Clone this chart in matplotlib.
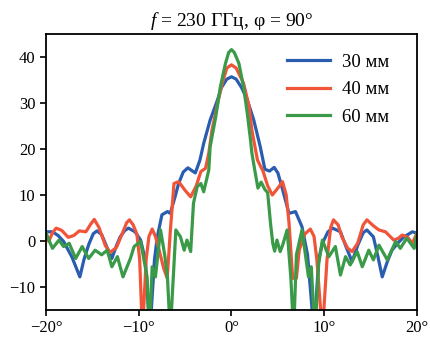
import matplotlib
matplotlib.use("Agg")
import matplotlib.pyplot as plt

# ---- data ----
blue_x = [-20, -19.3, -18.7, -18.1, -17.2, -16.35, -15.9, -15.4, -14.9, -14.5, -14.0, -13.4, -12.9, -12.4, -12.0,
          -11.5, -11.1, -10.4, -9.8, -9.3, -8.8,
          -8.3, -8.0, -7.5, -6.9, -6.6, -6.1, -5.7, -5.2, -4.7, -4.2, -3.9, -3.4, -3.0, -2.3, -1.5, -1.1, -0.5, 0.0,
          0.5, 1.1, 1.7, 2.4, 3.1, 3.6, 4.1, 4.6, 5.0, 5.4, 6.2, 6.9, 7.6, 8.2, 8.9, 9.4, 9.8, 10.4, 10.9,
          11.75, 12.4, 13.0, 13.6, 14.2, 14.6, 15.3, 15.8, 16.25, 16.8, 17.3, 18.0, 18.6, 19.5, 20]
blue_y = [2.0, 2.0, 1.2, -0.1, -3.5, -7.8, -4.0, -0.8, 1.6, 2.2, 1.4, -1.5, -3.8, -1.0, 0.9,
          2.3, 2.8, 2.0, 0.2, -4.0, -20,
          -4.0, 0.9, 5.7, 6.4, 6.0, 9.5, 12.5, 15.0, 15.9, 15.2, 14.8, 17.6, 21.2, 26.3, 30.7, 33.3, 35.2, 35.7,
          35.2, 33.3, 30.7, 26.3, 20.5, 15.6, 15.2, 16.0, 14.8, 12.0, 6.0, 6.4, 3.1, -3.0, -20, -4.0, -0.5, 2.0, 2.8,
          2.0, -1.5, -4.5, -1.0, 1.8, 2.4, 0.9, -3.5, -7.8, -4.5, -2.0, -0.3, 0.9, 2.0, 1.7]

red_x = [-20, -19.7, -19.3, -18.9, -18.3, -17.6, -17.0, -16.4, -15.7, -15.2, -14.8, -14.3, -13.6, -13.1, -12.4,
         -11.8, -11.3, -11.0, -10.6, -10.2, -9.9, -9.6,
         -9.2, -8.9, -8.55, -8.2, -7.8, -7.3, -6.93, -6.6, -6.2, -5.7, -5.0, -4.4, -3.8, -3.3, -2.8, -2.45, -2.1,
         -1.5, -1.0, -0.5, 0.0,
         0.5, 1.3, 1.9, 2.2, 2.8, 3.4, 3.9, 4.4, 5.0, 5.5, 5.9, 6.2, 6.6, 7.0, 7.3, 7.9, 8.5, 8.9, 9.2, 9.8, 10.3,
         10.7, 11.0, 11.5, 11.9, 12.5, 13.0, 13.6, 14.2, 14.6, 15.3, 15.9, 16.6, 17.5, 18.0, 18.4, 19.0, 19.5, 20]
red_y = [1.7, -0.1, 1.8, 2.8, 2.3, 0.8, 1.2, 2.2, 2.0, 3.6, 4.7, 3.0, -1.0, -2.5, -1.4,
         1.5, 4.0, 4.6, 3.5, 1.5, -4.0, -20,
         -4.0, 1.0, 2.6, 1.0, -2.0, -6.0, -8.1, 2.0, 12.5, 12.9, 11.0, 9.6, 12.0, 15.1, 15.8, 19.1, 24.1,
         29.9, 34.3, 37.6, 38.3,
         37.6, 34.3, 29.2, 24.1, 17.6, 15.2, 12.0, 10.0, 11.5, 12.9, 10.0, 4.0, -8.1, -8.1, -2.0, 1.5, 2.6, 1.0, -4.0, -20, -4.0,
         3.0, 4.6, 3.5, 0.9, -1.5, -2.3, -0.5, 3.5, 4.6, 3.3, 2.4, 2.0, 0.2, 0.6, 1.3, 0.8, -0.5, 1.7]

green_x = [-20, -19.3, -18.6, -18.1, -17.5, -16.8, -16.1, -15.4, -14.7, -14.0, -13.4, -12.9, -12.3,
           -11.7, -10.9, -10.5, -9.8, -9.1, -8.85, -8.55, -8.2, -7.65, -7.2, -6.9, -6.6, -6.0,
           -5.5, -5.1, -4.8, -4.4, -4.1, -3.7, -3.3, -3.0, -2.45, -2.3, -1.7, -1.2, -0.65, -0.3, 0.0,
           0.3, 0.8, 1.3, 1.7, 2.05, 2.2, 2.5, 2.85, 3.2, 3.6, 3.9, 4.2, 4.45, 4.65, 4.9, 5.25, 5.5,
           6.0, 6.4, 6.7, 7.0, 7.6, 8.3, 8.6, 9.0, 9.4, 9.8, 10.5, 11.2, 11.75, 12.3, 12.8,
           13.55, 14.1, 14.8, 15.3, 15.9, 16.8, 17.7, 18.2, 18.9, 19.7, 20]
green_y = [1.7, -1.6, 0.2, -1.2, -0.5, -3.8, -1.2, -3.8, -2.0, -3.0, -2.0, -5.6, -3.4,
           -7.8, -3.8, -1.2, -0.1, -7.8, -20, -5.6, -7.8, 2.4, -3.0, -8.0, -20, 2.4,
           0.9, -2.0, 0.2, -2.3, 8.2, 11.8, 12.5, 10.7, 15.4, 20.5, 27.0, 33.5, 38.6, 41.0, 41.6,
           41.0, 38.6, 33.5, 27.8, 22.0, 19.1, 15.5, 11.5, 12.8, 11.2, 10.5, 4.0, -0.5, -2.2, 0.2, -2.3, -1.0,
           2.4, -8.0, -20, -3.0, 2.4, -7.8, -5.6, -20, -5.0, 0.2, -3.4, -1.2, -7.4, -3.4, -5.2,
           -2.3, -5.6, -2.0, -4.1, -0.9, -4.1, -0.1, -1.6, 0.6, -1.6, 1.7]

series = [("30 мм", blue_x, blue_y, "#2a5db0"),
          ("40 мм", red_x, red_y, "#f0553a"),
          ("60 мм", green_x, green_y, "#3a9a48")]

xticks = [-20, -10, 0, 10, 20]
xtick_labels = ["\u221220°", "\u221210°", "0°", "10°", "20°"]
yticks = [-10, 0, 10, 20, 30, 40]
ytick_labels = ["\u221210", "0", "10", "20", "30", "40"]

plt.rcParams['font.family'] = ['Liberation Serif', 'DejaVu Serif']
plt.rcParams['mathtext.fontset'] = 'custom'
plt.rcParams['mathtext.rm'] = 'Liberation Serif'
plt.rcParams['mathtext.it'] = 'Liberation Serif:italic'

fig = plt.figure(figsize=(4.31, 3.52), dpi=100)
ax = fig.add_axes([0.1067, 0.1193, 0.8608, 0.7841])

for label, xs, ys, c in series:
    ax.plot(xs, ys, color=c, lw=2.3, label=label, solid_joinstyle='round')

ax.set_xlim(-20, 20)
ax.set_ylim(-15, 45)
ax.set_xticks(xticks)
ax.set_xticklabels(xtick_labels)
ax.set_yticks(yticks)
ax.set_yticklabels(ytick_labels)
ax.tick_params(labelsize=12, length=4, width=1.2, direction='out', colors='black')
for s in ax.spines.values():
    s.set_linewidth(1.3)
    s.set_color('black')

ax.set_title("$f$ = 230 ГГц, φ = 90°", fontsize=14, pad=6)

ax.legend(loc='upper left', bbox_to_anchor=(0.605, 0.99), frameon=False, fontsize=13.5,
          handlelength=2.3, handletextpad=0.6, labelspacing=0.55)

fig.savefig("out.png", dpi=100)
